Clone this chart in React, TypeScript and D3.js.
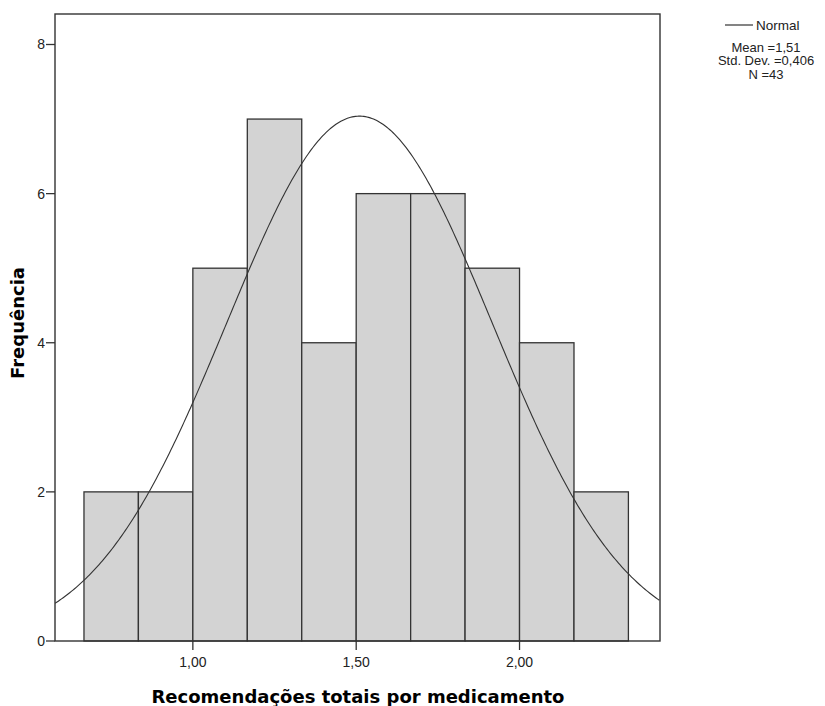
import React from "react";
import * as d3 from "d3";

// Histogram bins (lower edges) and frequencies
const binEdges = [0.6667, 0.8333, 1.0, 1.1667, 1.3333, 1.5, 1.6667, 1.8333, 2.0, 2.1667, 2.3333];
const counts = [2, 2, 5, 7, 4, 6, 6, 5, 4, 2];
const xTicks = [1.0, 1.5, 2.0];
const yTicks = [0, 2, 4, 6, 8];
const mean = 1.51;
const stdDev = 0.406;
const n = 43;
const statLines = ["Mean =1,51", "Std. Dev. =0,406", "N =43"];

const W = 825;
const H = 706;
const plot = { left: 55, top: 14, right: 660, bottom: 641 };

export default function App() {
  const x = d3.scaleLinear().domain([0.578, 2.43]).range([plot.left, plot.right]);
  const y = d3.scaleLinear().domain([0, 8]).range([plot.bottom, 44.5]);

  const binWidth = binEdges[1] - binEdges[0];
  const curveData = d3.range(0.578, 2.4301, 0.005).map((v) => {
    const z = (v - mean) / stdDev;
    const dens = Math.exp(-0.5 * z * z) / (stdDev * Math.sqrt(2 * Math.PI));
    return [v, dens * n * binWidth] as [number, number];
  });
  const line = d3.line<[number, number]>().x((d) => x(d[0])).y((d) => y(d[1]));
  const fmt = (v: number) => v.toFixed(2).replace(".", ",");
  const font = "Liberation Sans, Arial, sans-serif";
  const titleFont = "DejaVu Sans, Verdana, sans-serif";

  return (
    <svg width={W} height={H} style={{ position: "absolute", left: 0, top: 0 }} fontFamily={font}>
      <rect x={0} y={0} width={W} height={H} fill="#fff" />
      <defs>
        <clipPath id="plotClip">
          <rect x={plot.left} y={plot.top} width={plot.right - plot.left} height={plot.bottom - plot.top} />
        </clipPath>
      </defs>
      {counts.map((c, i) => (
        <rect
          key={i}
          x={x(binEdges[i])}
          y={y(c)}
          width={x(binEdges[i + 1]) - x(binEdges[i])}
          height={y(0) - y(c)}
          fill="#d3d3d3"
          stroke="#333"
          strokeWidth={1.3}
        />
      ))}
      <path d={line(curveData) || ""} fill="none" stroke="#333" strokeWidth={1.1} clipPath="url(#plotClip)" />
      <rect
        x={plot.left}
        y={plot.top}
        width={plot.right - plot.left}
        height={plot.bottom - plot.top}
        fill="none"
        stroke="#333"
        strokeWidth={1.4}
      />
      {yTicks.map((t) => (
        <g key={t}>
          <line x1={plot.left - 9} x2={plot.left} y1={y(t)} y2={y(t)} stroke="#333" strokeWidth={1.3} />
          <text x={plot.left - 10} y={y(t)} dy="0.35em" textAnchor="end" fontSize={14} fill="#222">
            {t}
          </text>
        </g>
      ))}
      {xTicks.map((t) => (
        <g key={t}>
          <line x1={x(t)} x2={x(t)} y1={plot.bottom} y2={plot.bottom + 9} stroke="#333" strokeWidth={1.3} />
          <text x={x(t)} y={plot.bottom + 21} dy="0.35em" textAnchor="middle" fontSize={14} fill="#222">
            {fmt(t)}
          </text>
        </g>
      ))}
      <text x={358} y={703} textAnchor="middle" fontSize={18} fontWeight="bold" fill="#000" fontFamily={titleFont}>
        Recomendações totais por medicamento
      </text>
      <text
        transform={`translate(24, 323) rotate(-90)`}
        textAnchor="middle"
        fontSize={18}
        fontWeight="bold"
        fill="#000"
        fontFamily={titleFont}
      >
        Frequência
      </text>
      <line x1={725} x2={753} y1={25} y2={25} stroke="#333" strokeWidth={1.2} />
      <text x={756} y={25} dy="0.35em" fontSize={13.5} fill="#222">
        Normal
      </text>
      <g fontSize={13} fill="#222" textAnchor="middle">
        {statLines.map((s, i) => (
          <text key={s} x={766} y={47 + i * 13.5} dy="0.35em">
            {s}
          </text>
        ))}
      </g>
    </svg>
  );
}
